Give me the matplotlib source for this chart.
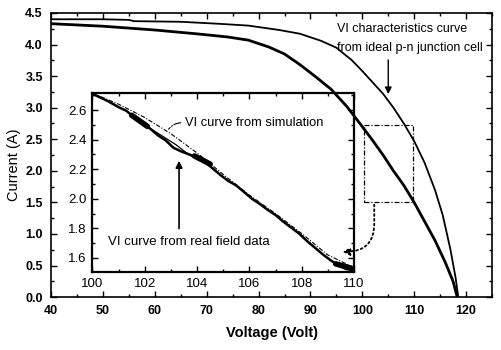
import matplotlib
matplotlib.use("Agg")
import matplotlib.pyplot as plt
from matplotlib.patches import Rectangle
from matplotlib.ticker import MultipleLocator

plt.rcParams["font.family"] = ["Liberation Sans", "DejaVu Sans"]

# main plot: ideal p-n junction curve and the measured field curve
ideal_v = [40, 50, 55, 56, 65, 72, 78, 84, 88, 92, 95, 98, 100, 102, 104, 106,
           108, 110, 112, 114, 115.5, 117, 118, 118.5]
ideal_i = [4.40, 4.40, 4.39, 4.37, 4.36, 4.33, 4.30, 4.23, 4.17, 4.06, 3.95, 3.75,
           3.58, 3.40, 3.22, 3.00, 2.75, 2.47, 2.13, 1.70, 1.30, 0.75, 0.30, 0.0]

field_v = [40, 50, 60, 68, 74, 78, 82, 85, 88, 91, 94, 97, 100, 102, 104, 106,
           108, 110, 112, 114, 116, 117.5, 118.3]
field_i = [4.33, 4.29, 4.23, 4.17, 4.12, 4.07, 3.96, 3.85, 3.68, 3.49, 3.29, 3.02,
           2.70, 2.48, 2.25, 2.00, 1.77, 1.50, 1.20, 0.90, 0.55, 0.25, 0.0]

# inset: zoom on 100-110 V
zoom_v = [100.0, 100.3, 100.6, 101.0, 101.3, 101.6, 101.9, 102.2, 102.5, 102.8,
          103.1, 103.4, 103.7, 104.0, 104.3, 104.6, 104.9, 105.2, 105.5, 105.8,
          106.1, 106.4, 106.7, 107.0, 107.3, 107.6, 107.9, 108.2, 108.5, 108.8,
          109.1, 109.4, 109.7, 110.0]
zoom_i = [2.71, 2.685, 2.66, 2.62, 2.595, 2.55, 2.515, 2.475, 2.43, 2.395,
          2.345, 2.32, 2.30, 2.275, 2.25, 2.205, 2.16, 2.12, 2.09, 2.045,
          2.00, 1.965, 1.925, 1.89, 1.845, 1.805, 1.765, 1.715, 1.67, 1.625,
          1.585, 1.55, 1.525, 1.52]

# second pass of the field trace (the small loop)
loop_v = [102.0, 102.4, 102.8, 103.2, 103.6, 104.0]
loop_i = [2.50, 2.455, 2.41, 2.365, 2.31, 2.28]

# dense clusters of field samples
blob1_v = [101.5, 102.1]
blob1_i = [2.565, 2.49]
blob2_v = [103.9, 104.5]
blob2_i = [2.29, 2.235]
blob3_v = [109.3, 109.9]
blob3_i = [1.56, 1.53]

sim_v = [100, 101, 102, 103, 104, 105, 106, 107, 108, 109, 110]
sim_i = [2.715, 2.64, 2.55, 2.44, 2.31, 2.165, 2.025, 1.90, 1.765, 1.62, 1.535]

box_v = (100.4, 109.8)
box_i = (1.51, 2.73)

fig = plt.figure(figsize=(5.01, 3.5), dpi=100)
ax = fig.add_axes([0.102, 0.151, 0.880, 0.812])
ax_in = fig.add_axes([0.1846, 0.2229, 0.522, 0.511])
ax_in.set_facecolor("none")

ax.plot(ideal_v, ideal_i, color="black", lw=1.3)
ax.plot(field_v, field_i, color="black", lw=2.0)

ax.set_xlim(40, 125)
ax.set_ylim(0, 4.5)
ax.xaxis.set_major_locator(MultipleLocator(10))
ax.xaxis.set_minor_locator(MultipleLocator(5))
ax.yaxis.set_major_locator(MultipleLocator(0.5))
ax.yaxis.set_minor_locator(MultipleLocator(0.25))
ax.yaxis.set_major_formatter(lambda v, p: f"{v:.1f}")
ax.tick_params(which="both", direction="in", top=True, right=True, width=1.0)
ax.tick_params(which="major", length=4, labelsize=9, pad=6)
ax.tick_params(which="minor", length=2.5)
for lab in ax.get_xticklabels() + ax.get_yticklabels():
    lab.set_fontweight("bold")
for spine in ax.spines.values():
    spine.set_linewidth(1.2)

ax.set_xlabel("Voltage (Volt)", fontsize=10.5, fontweight="bold", labelpad=6)
ax.set_ylabel("Current (A)", fontsize=10.5)
ax.yaxis.set_label_coords(-0.068, 0.467)

# zoom box and connector
ax.add_patch(Rectangle((box_v[0], box_i[0]), box_v[1] - box_v[0], box_i[1] - box_i[0],
                       fill=False, ec="black", lw=0.9, ls=(0, (4, 1.5, 1, 1.5))))
ax.annotate("", xy=(95.6, 0.72), xytext=(102.3, box_i[0]), annotation_clip=False,
            arrowprops=dict(arrowstyle="-|>", color="black", lw=1.3, ls=":",
                            mutation_scale=11,
                            connectionstyle="angle,angleA=90,angleB=0,rad=28"))

ax.text(95.2, 4.25, "VI characteristics curve", fontsize=9, va="center")
ax.text(95.2, 3.95, "from ideal p-n junction cell", fontsize=9, va="center")
ax.annotate("", xy=(105.0, 3.17), xytext=(105.0, 3.80),
            arrowprops=dict(arrowstyle="-|>", color="black", lw=1.0, mutation_scale=10))

# inset
ax_in.plot(sim_v, sim_i, color="black", lw=0.8, ls=(0, (4, 1.5, 1, 1.5)))
ax_in.plot(zoom_v, zoom_i, color="black", lw=1.8)
ax_in.plot(loop_v, loop_i, color="black", lw=0.9)
for bv, bi in [(blob1_v, blob1_i), (blob2_v, blob2_i), (blob3_v, blob3_i)]:
    ax_in.plot(bv, bi, color="black", lw=4.0, solid_capstyle="round")

ax_in.set_xlim(100, 110)
ax_in.set_ylim(1.505, 2.715)
ax_in.xaxis.set_major_locator(MultipleLocator(2))
ax_in.xaxis.set_minor_locator(MultipleLocator(1))
ax_in.yaxis.set_major_locator(MultipleLocator(0.2))
ax_in.yaxis.set_minor_locator(MultipleLocator(0.1))
ax_in.yaxis.set_major_formatter(lambda v, p: f"{v:.1f}")
ax_in.tick_params(which="both", direction="in", top=True, right=True, width=1.0)
ax_in.tick_params(which="major", length=4, labelsize=9.5, pad=4)
ax_in.tick_params(which="minor", length=2.5)
for spine in ax_in.spines.values():
    spine.set_linewidth(1.6)

ax_in.text(103.54, 2.512, "VI curve from simulation", fontsize=9.3, va="center")
ax_in.annotate("", xy=(102.85, 2.455), xytext=(103.48, 2.515),
               arrowprops=dict(arrowstyle="-", color="black", lw=0.8, ls="-.",
                               connectionstyle="arc3,rad=0.3"))
ax_in.text(100.59, 1.71, "VI curve from real field data", fontsize=9.5, va="center")
ax_in.annotate("", xy=(103.31, 2.276), xytext=(103.31, 1.78),
               arrowprops=dict(arrowstyle="-|>", color="black", lw=1.2, mutation_scale=10))

fig.savefig("out.png", dpi=100)
